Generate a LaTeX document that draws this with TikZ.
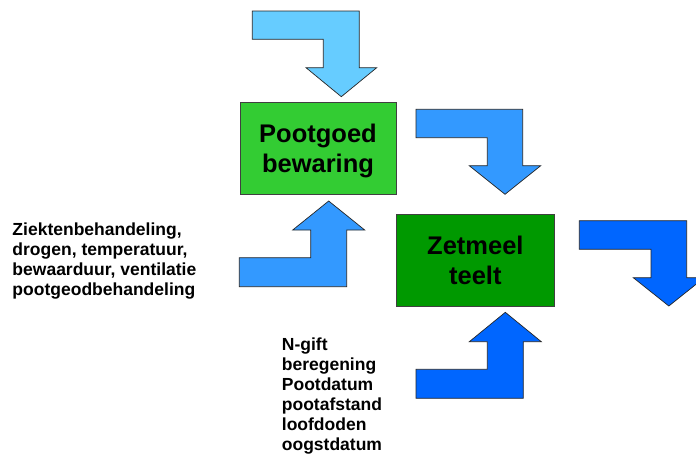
\documentclass[tikz,border=0pt]{standalone}
\usepackage{fontspec}
\setmainfont{Liberation Sans}
\definecolor{lightarrow}{HTML}{66CCFF}
\definecolor{midarrow}{HTML}{3399FF}
\definecolor{darkarrow}{HTML}{0066FF}
\definecolor{lightbox}{HTML}{33CC33}
\definecolor{darkbox}{HTML}{009900}
\begin{document}
\begin{tikzpicture}[x=1pt,y=-1pt,
  blockarrow/.style={draw=black!85,line width=0.7pt,line join=miter},
  procbox/.style={draw=black!75,line width=0.8pt,inner sep=0pt,align=center,
    font=\fontsize{25.5}{30}\selectfont\bfseries},
  labeltext/.style={inner sep=0pt,align=left,anchor=north west,
    font=\fontsize{17.5}{20}\selectfont\bfseries}]
\useasboundingbox (0,0) rectangle (696,455);
% boxes
\node[procbox,fill=lightbox,minimum width=156pt,minimum height=91.3pt] (bew) at (318,148.35) {Pootgoed\\\smash{bewaring}};
\node[procbox,fill=darkbox,minimum width=157.3pt,minimum height=91.7pt] (teelt) at (475.35,260.15) {Zetmeel\\teelt};
% arrows
\filldraw[blockarrow,fill=lightarrow] (252.3,11) -- (359.3,11) -- (359.3,67.7) -- (376.7,67.7) -- (341.3,96.7) -- (306,67.7) -- (323.3,67.7) -- (323.3,39.3) -- (252.3,39.3) -- cycle;
\filldraw[blockarrow,fill=midarrow] (416,109.3) -- (522.7,109.3) -- (522.7,165.7) -- (540.7,165.7) -- (505,194.3) -- (469.3,165.7) -- (487.3,165.7) -- (487.3,137.7) -- (416,137.7) -- cycle;
\filldraw[blockarrow,fill=darkarrow] (579.3,220.7) -- (686.7,220.7) -- (686.7,277.7) -- (704.3,277.7) -- (668.8,306) -- (633.3,277.7) -- (651,277.7) -- (651,249.3) -- (579.3,249.3) -- cycle;
\filldraw[blockarrow,fill=midarrow] (239.3,257.7) -- (310.7,257.7) -- (310.7,230) -- (292.7,230) -- (328.7,201) -- (364.7,230) -- (346.7,230) -- (346.7,286.7) -- (239.3,286.7) -- cycle;
\filldraw[blockarrow,fill=darkarrow] (416,369.3) -- (487.3,369.3) -- (487.3,341.7) -- (469.3,341.7) -- (505.3,312.3) -- (541.3,341.7) -- (523.3,341.7) -- (523.3,398.3) -- (416,398.3) -- cycle;
% texts
\node[labeltext] (lefttext) at (12.3,222.3) {Ziektenbehandeling,\\drogen, temperatuur,\\bewaarduur, ventilatie\\pootgeodbehandeling};
\node[labeltext] (bottomtext) at (281.7,337.2) {N-gift\\beregening\\Pootdatum\\pootafstand\\loofdoden\\oogstdatum};
\end{tikzpicture}
\end{document}
